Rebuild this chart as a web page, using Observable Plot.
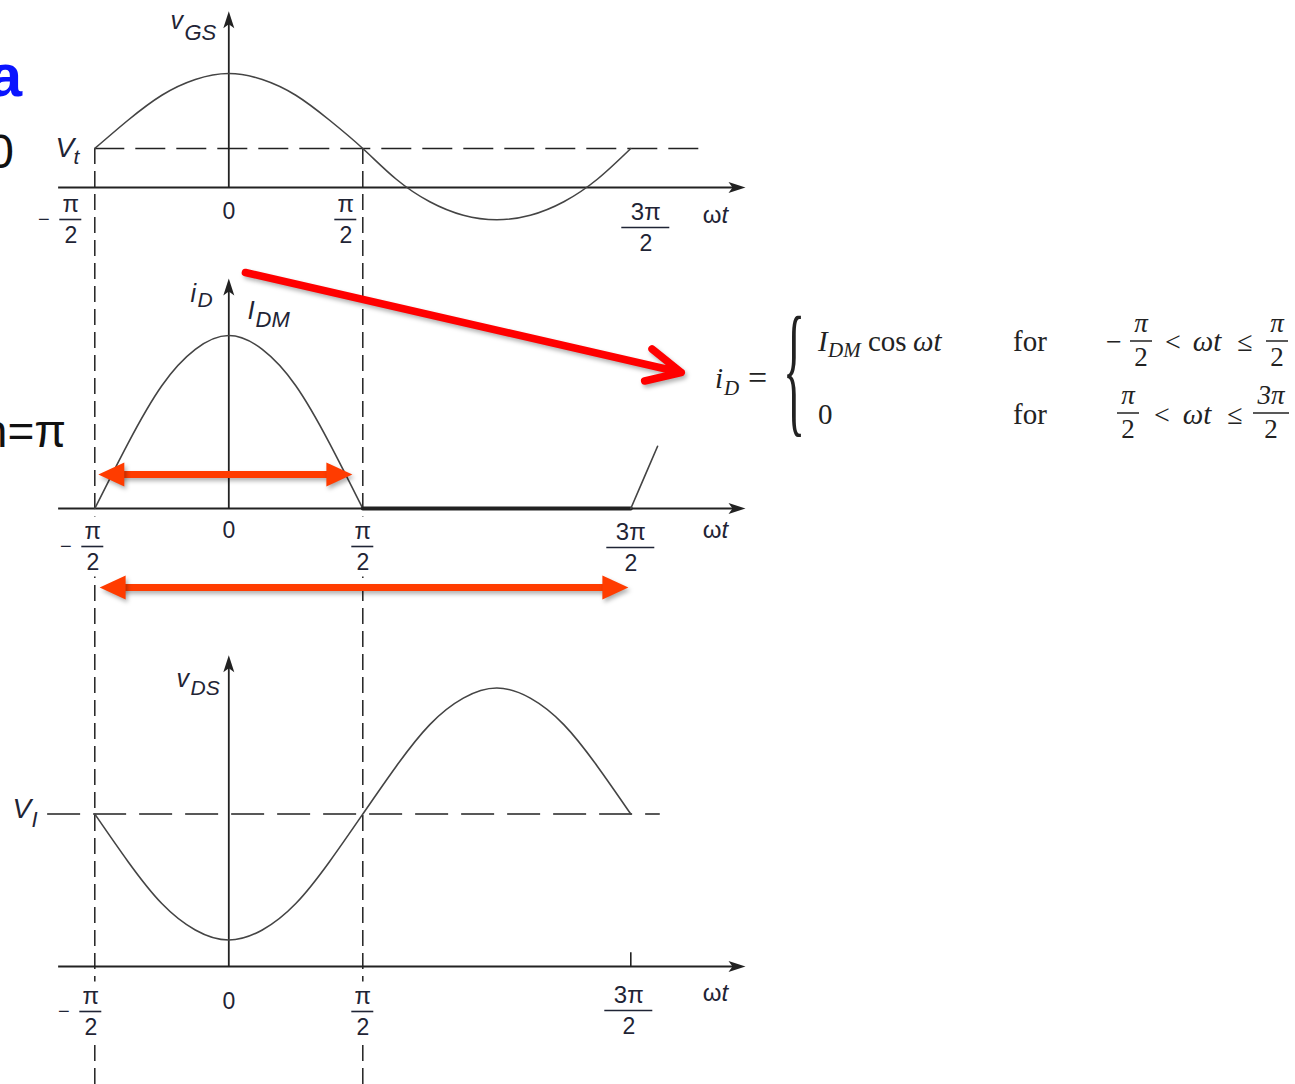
<!DOCTYPE html>
<html>
<head>
<meta charset="utf-8">
<script src="https://cdn.jsdelivr.net/npm/d3@7"></script>
<script src="https://cdn.jsdelivr.net/npm/@observablehq/plot@0.6"></script>
<style>
  body { margin: 0; background: #fff; }
  #page { position: relative; width: 1295px; height: 1084px; overflow: hidden; background: #fff; }
</style>
</head>
<body>
<div id="page"></div>
<script>
// ===================== DATA (ωt in units of π) =====================
const phase = [-0.5, -0.375, -0.25, -0.125, 0, 0.125, 0.25, 0.375, 0.5, 0.625, 0.75, 0.875, 1, 1.125, 1.25, 1.375, 1.5];
// v_GS, in units of the signal amplitude
const vGS = [0.52, 0.90, 1.23, 1.44, 1.52, 1.44, 1.23, 0.90, 0.52, 0.11, -0.19, -0.37, -0.43, -0.37, -0.19, 0.11, 0.52];
const Vt = 0.52;
// i_D, in units of I_DM
const iDPhase = [-0.5, -0.375, -0.25, -0.125, 0, 0.125, 0.25, 0.375, 0.5];
const iD = [0, 0.38, 0.71, 0.92, 1, 0.92, 0.71, 0.38, 0];
const iDOffPhase = [0.5, 1.5];
const iDOff = [0, 0];
const iDNextPhase = [1.5, 1.55, 1.6];
const iDNext = [0, 0.18, 0.36];
// v_DS, in units of the signal amplitude
const vDS = [1.21, 0.83, 0.50, 0.29, 0.21, 0.29, 0.50, 0.83, 1.21, 1.59, 1.92, 2.13, 2.21, 2.13, 1.92, 1.59, 1.21];
const VI = 1.21;
// tick labels
const tickValues = [-0.5, 0, 0.5, 1.5];
const tickSigns = ["−", "", "", ""];
const tickNumerators = ["π", "0", "π", "3π"];
const tickDenominators = ["2", "", "2", "2"];
const dashedPhases = [-0.5, 0.5];
// names
const axisNames = [["v", "GS"], ["i", "D"], ["v", "DS"]];
const levelNames = [["V", "t"], ["I", "DM"], ["V", "I"]];
const xName = ["ω", "t"];
// red annotation arrows (middle panel units)
const conductionSpan = [-0.487, 0.461], conductionLevel = 0.197;
const periodSpan = [-0.482, 1.491], periodLevel = -0.457;
const pointerFrom = [0.062, 1.364], pointerTo = [1.688, 0.786];

// ===================== LAYOUT / STYLE =====================
const page = document.getElementById("page");
const INK = "#222";
const CURVE = "#444";
const LBL = "#1f2435";
const RED = "#ff0000";
const RED2 = "#ff3c00";
const SANS = "'Liberation Sans', Arial, Helvetica, sans-serif";
const SERIF = "'Liberation Serif', 'Times New Roman', serif";
const axisSpan = [-0.635, 1.928];
const vAxisTop = [2.35, 1.33, 2.47];
const vtLineEnd = 1.771;
const viLineSpan = [-0.676, 1.61];
const bottomTickTop = 0.11;

const axisHead = {draw(ctx) { ctx.moveTo(0, 0); ctx.lineTo(-5.5, 17); ctx.lineTo(0, 13); ctx.lineTo(5.5, 17); ctx.closePath(); }};
const redHead = {draw(ctx) { ctx.moveTo(0, 0); ctx.lineTo(-26, -12); ctx.lineTo(-26, 12); ctx.closePath(); }};
const box = (w, h) => ({draw(ctx) { ctx.rect(-w / 2, -h / 2, w, h); }});

const pts = (xs, ys) => xs.map((x, i) => ({x, y: ys[i]}));

function mkPlot(yRange, marks) {
  const svg = Plot.plot({
    width: 1295, height: 1084, margin: 0,
    x: {domain: [-0.5, 1.5], range: [94.3, 630.3], axis: null},
    y: {domain: [0, 1], range: yRange, axis: null},
    marks
  });
  svg.setAttribute("style", "position:absolute;left:0;top:0;background:transparent;overflow:hidden;max-width:none;");
  page.appendChild(svg);
  return svg;
}

function axisMarks(vTop) {
  return [
    Plot.ruleY([{x1: axisSpan[0], x2: axisSpan[1], y: 0}], {x1: "x1", x2: "x2", y: "y", stroke: INK, strokeWidth: 2, insetRight: 8}),
    Plot.dot([{x: axisSpan[1], y: 0}], {x: "x", y: "y", symbol: axisHead, rotate: 90, fill: INK, stroke: "none"}),
    Plot.ruleX([{x: 0, y1: vTop, y2: 0}], {x: "x", y1: "y1", y2: "y2", stroke: INK, strokeWidth: 1.8, insetTop: 8}),
    Plot.dot([{x: 0, y: vTop}], {x: "x", y: "y", symbol: axisHead, fill: INK, stroke: "none"})
  ];
}

function tickLabelMarks(st) {
  const out = [];
  tickValues.forEach((v, i) => {
    const at = [{x: v, y: 0}];
    const ink = {x: "x", y: "y", fontFamily: SANS, fontSize: 23, textAnchor: "middle", lineAnchor: "middle", fill: LBL};
    const add = (txt, dx, dy, extra = {}) => out.push(Plot.text(at, {...ink, ...extra, text: () => txt, dx, dy}));
    if (tickDenominators[i]) {
      const w = tickNumerators[i].length > 1 ? 48 : 22;
      if (st.knockout) {
        out.push(Plot.dot(at, {x: "x", y: "y", symbol: box(w, 60), fill: "white", stroke: "none", dx: st.dx[i], dy: st.dy[i]}));
      }
      add(tickNumerators[i], st.dx[i], st.dy[i] - 15, {fontSize: 24});
      add(tickDenominators[i], st.dx[i], st.dy[i] + 16);
      out.push(Plot.ruleY(at, {x1: "x", x2: "x", y: "y", insetLeft: -w / 2, insetRight: -w / 2, dx: st.dx[i], dy: st.dy[i], stroke: LBL, strokeWidth: 1.6}));
      if (tickSigns[i]) add(tickSigns[i], st.dx[i] - 27, st.dy[i], {fontSize: 20});
    } else {
      add(tickNumerators[i], st.dx[i], st.dy[i]);
    }
  });
  return out;
}

function nameMarks(names, pos) {
  // pos: [[x, y, size] for main letter, [x, y, size] for subscript]
  return names.map((t, k) => Plot.text([{x: pos[k][0], y: pos[k][1]}], {
    x: "x", y: "y", text: () => t, fontSize: pos[k][2], fontStyle: "italic",
    fontFamily: SANS, fill: LBL, textAnchor: "start", lineAnchor: "bottom"
  }));
}

function xNameMarks(yv) {
  return [
    Plot.text([{x: 1.827, y: yv}], {x: "x", y: "y", text: () => xName[0], fontSize: 24, fontFamily: SANS, fill: LBL, textAnchor: "end", lineAnchor: "middle", dx: 3}),
    Plot.text([{x: 1.827, y: yv}], {x: "x", y: "y", text: () => xName[1], fontSize: 24, fontStyle: "italic", fontFamily: SANS, fill: LBL, textAnchor: "start", lineAnchor: "middle", dx: 3})
  ];
}

const curveStyle = {x: "x", y: "y", stroke: CURVE, strokeWidth: 1.6, curve: "natural"};

// ---------- top panel: v_GS ----------
mkPlot([187, 112], [
  Plot.ruleX(dashedPhases, {x: d => d, y1: () => Vt, y2: () => -12, stroke: INK, strokeWidth: 1.5, strokeDasharray: "16,7"}),
  Plot.ruleY([Vt], {y: d => d, x1: () => -0.5, x2: () => vtLineEnd, stroke: INK, strokeWidth: 1.6, strokeDasharray: "30,11"}),
  ...axisMarks(vAxisTop[0]),
  Plot.line(pts(phase, vGS), curveStyle),
  ...tickLabelMarks({dx: [-24, 0, -17, 15], dy: [32, 24, 32, 40]}),
  ...nameMarks(axisNames[0], [[-0.2175, 2.107, 25], [-0.1653, 1.973, 22]]),
  ...nameMarks(levelNames[0], [[-0.6466, 0.413, 28], [-0.5795, 0.307, 21]]),
  ...xNameMarks(-0.373)
]);

// ---------- middle panel: i_D ----------
const mid = mkPlot([508, 335], [
  ...axisMarks(vAxisTop[1]),
  Plot.line(pts(iDPhase, iD), curveStyle),
  Plot.line(pts(iDOffPhase, iDOff), {x: "x", y: "y", stroke: INK, strokeWidth: 4}),
  Plot.line(pts(iDNextPhase, iDNext), {...curveStyle, curve: "linear"}),
  ...tickLabelMarks({dx: [-2, 0, 0, 0], dy: [38, 22, 38, 39], knockout: true}),
  ...nameMarks(axisNames[1], [[-0.1429, 1.191, 25], [-0.1168, 1.162, 21]]),
  ...nameMarks(levelNames[1], [[0.0698, 1.098, 26], [0.0996, 1.052, 22]]),
  ...xNameMarks(-0.127),
  // red annotations
  Plot.arrow([{x1: pointerFrom[0], y1: pointerFrom[1], x2: pointerTo[0], y2: pointerTo[1]}],
    {x1: "x1", y1: "y1", x2: "x2", y2: "y2", stroke: RED, strokeWidth: 7.5, headLength: 7.5, headAngle: 52, strokeLinecap: "round", strokeLinejoin: "round"}),
  Plot.ruleY([{x1: conductionSpan[0], x2: conductionSpan[1], y: conductionLevel}], {x1: "x1", x2: "x2", y: "y", stroke: RED2, strokeWidth: 7, insetLeft: 18, insetRight: 18}),
  Plot.dot([{x: conductionSpan[0], y: conductionLevel}], {x: "x", y: "y", symbol: redHead, rotate: 180, fill: RED2, stroke: "none"}),
  Plot.dot([{x: conductionSpan[1], y: conductionLevel}], {x: "x", y: "y", symbol: redHead, fill: RED2, stroke: "none"}),
  Plot.ruleY([{x1: periodSpan[0], x2: periodSpan[1], y: periodLevel}], {x1: "x1", x2: "x2", y: "y", stroke: RED2, strokeWidth: 7, insetLeft: 18, insetRight: 18}),
  Plot.dot([{x: periodSpan[0], y: periodLevel}], {x: "x", y: "y", symbol: redHead, rotate: 180, fill: RED2, stroke: "none"}),
  Plot.dot([{x: periodSpan[1], y: periodLevel}], {x: "x", y: "y", symbol: redHead, fill: RED2, stroke: "none"})
]);
d3.select(mid).selectAll(`g[stroke="${RED}"], g[stroke="${RED2}"], g[fill="${RED2}"]`)
  .style("filter", "drop-shadow(2px 3px 2px rgba(0,0,0,0.3))");

// ---------- bottom panel: v_DS ----------
mkPlot([966, 840], [
  Plot.ruleY([VI], {y: d => d, x1: () => viLineSpan[0], x2: () => viLineSpan[1], stroke: INK, strokeWidth: 1.6, strokeDasharray: "33,13"}),
  ...axisMarks(vAxisTop[2]),
  Plot.ruleX([1.5], {x: d => d, y1: () => 0, y2: () => bottomTickTop, stroke: INK, strokeWidth: 1.6}),
  Plot.line(pts(phase, vDS), curveStyle),
  ...tickLabelMarks({dx: [-4, 0, 0, -2], dy: [45, 35, 45, 44], knockout: true}),
  ...nameMarks(axisNames[2], [[-0.1951, 2.222, 25], [-0.1429, 2.151, 21]]),
  ...nameMarks(levelNames[2], [[-0.8071, 1.175, 28], [-0.7362, 1.111, 22]]),
  ...xNameMarks(-0.214)
]);

// ---------- equation and slide text (real text) ----------
const ov = d3.select(page).append("svg")
  .attr("width", 1295).attr("height", 1084)
  .attr("style", "position:absolute;left:0;top:0;overflow:hidden");
function T(x, y, s, o = {}) {
  return ov.append("text").attr("x", x).attr("y", y)
    .attr("font-family", o.family || SERIF).attr("font-size", o.size || 28)
    .attr("font-style", o.italic ? "italic" : null).attr("font-weight", o.bold ? "bold" : null)
    .attr("text-anchor", o.anchor || "start").attr("fill", o.fill || "#222").text(s);
}
function frac(cx, by, num, w) {
  T(cx, by - 9, num, {italic: true, anchor: "middle", size: 27});
  ov.append("line").attr("x1", cx - w / 2).attr("x2", cx + w / 2).attr("y1", by).attr("y2", by).attr("stroke", "#222").attr("stroke-width", 1.5);
  T(cx, by + 25, "2", {anchor: "middle", size: 27});
}
T(715, 388, "i", {italic: true, size: 29});
T(724, 395, "D", {italic: true, size: 21});
T(748, 389, "=", {size: 34});
ov.append("text").attr("transform", "translate(783,380) scale(1,3.2)").attr("y", 11.5)
  .attr("font-family", SERIF).attr("font-size", 46).attr("fill", "#222").text("{");
// row 1
T(818, 351, "I", {italic: true, size: 29});
T(828, 357, "DM", {italic: true, size: 21});
T(868, 351, "cos", {size: 29});
T(913, 351, "ωt", {italic: true, size: 29});
T(1013, 351, "for", {size: 29});
T(1106, 351, "−");
frac(1141, 341, "π", 22);
T(1173, 351, "<", {anchor: "middle"});
T(1207, 351, "ωt", {italic: true, anchor: "middle", size: 29});
T(1245, 351, "≤", {anchor: "middle"});
frac(1277, 341, "π", 22);
// row 2
T(818, 424, "0", {size: 29});
T(1013, 424, "for", {size: 29});
frac(1128, 413, "π", 22);
T(1162, 424, "<", {anchor: "middle"});
T(1197, 424, "ωt", {italic: true, anchor: "middle", size: 29});
T(1235, 424, "≤", {anchor: "middle"});
frac(1271, 413, "3π", 36);
// cut-off slide text at the left edge
T(22, 96, "a", {family: SANS, size: 60, bold: true, fill: "#0a14ff", anchor: "end"});
T(14, 168, "0", {family: SANS, size: 48, fill: "#111", anchor: "end"});
T(66, 447, "n=π", {family: SANS, size: 46, fill: "#111", anchor: "end"});
</script>
</body>
</html>
